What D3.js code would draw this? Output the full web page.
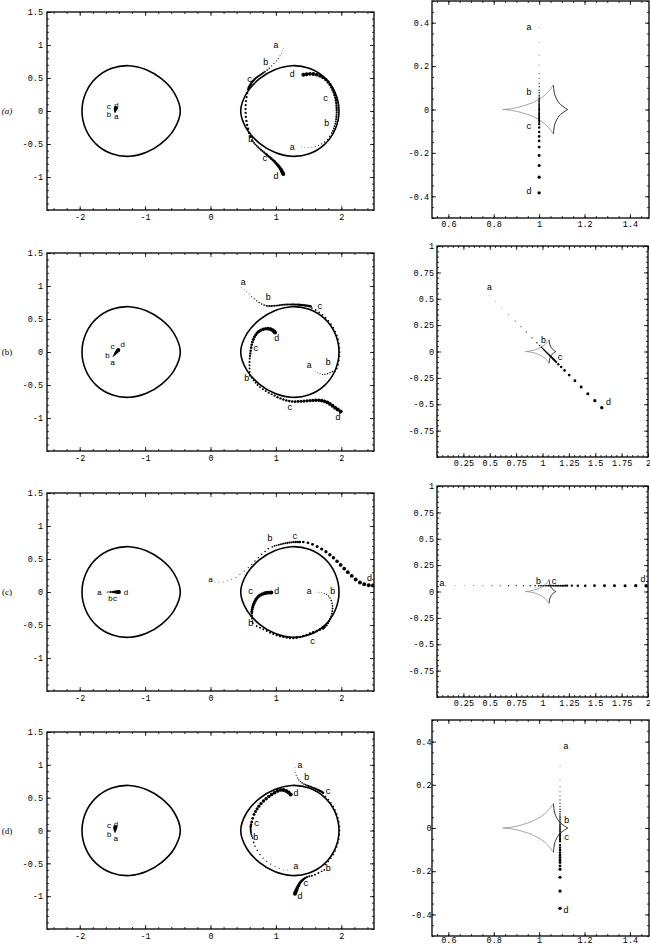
<!DOCTYPE html>
<html><head><meta charset="utf-8">
<script src="https://cdn.jsdelivr.net/npm/d3@7"></script>
<style>body{margin:0;background:#fff}svg{display:block}</style>
</head><body>
<svg id="chart" width="650" height="946"></svg>
<script>
// ---------------- tick values & labels ----------------
const leftXTicks = [-2, -1, 0, 1, 2];
const leftXTickLabels = ["-2", "-1", "0", "1", "2"];
const leftYTicks = [1.5, 1, 0.5, 0, -0.5, -1];
const leftYTickLabels = ["1.5", "1", "0.5", "0", "-0.5", "-1"];
const narrowXTicks = [0.6, 0.8, 1, 1.2, 1.4];
const narrowXTickLabels = ["0.6", "0.8", "1", "1.2", "1.4"];
const narrowYTicks = [0.4, 0.2, 0, -0.2, -0.4];
const narrowYTickLabels = ["0.4", "0.2", "0", "-0.2", "-0.4"];
const wideXTicks = [0.25, 0.5, 0.75, 1, 1.25, 1.5, 1.75, 2];
const wideXTickLabels = ["0.25", "0.5", "0.75", "1", "1.25", "1.5", "1.75", "2"];
const wideYTicks = [1, 0.75, 0.5, 0.25, 0, -0.25, -0.5, -0.75];
const wideYTickLabels = ["1", "0.75", "0.5", "0.25", "0", "-0.25", "-0.5", "-0.75"];
const leftDomainX = [-2.5, 2.5], leftDomainY = [-1.5, 1.5];
const narrowDomainX = [0.528, 1.484], narrowDomainY = [-0.5, 0.5];
const wideDomainX = [0, 2], wideDomainY = [-1, 1];
const rowTags = ["(a)", "(b)", "(c)", "(d)"];

// ---------------- critical curves (image plane) ----------------
const criticalRight = [[1.965,0],[1.907,0.276],[1.745,0.505],[1.508,0.648],[1.24,0.686],[0.981,0.625],[0.751,0.489],[0.559,0.282],[0.462,0],[0.559,-0.282],[0.751,-0.489],[0.981,-0.625],[1.24,-0.686],[1.508,-0.648],[1.745,-0.505],[1.907,-0.276]];
const criticalLeft = [[-1.965,0],[-1.907,0.276],[-1.745,0.505],[-1.508,0.648],[-1.24,0.686],[-0.981,0.625],[-0.751,0.489],[-0.559,0.282],[-0.462,0],[-0.559,-0.282],[-0.751,-0.489],[-0.981,-0.625],[-1.24,-0.686],[-1.508,-0.648],[-1.745,-0.505],[-1.907,-0.276]];

// ---------------- caustic (source plane) ----------------
const causticUL = [[0.84,0],[0.885,0.005],[0.925,0.015],[0.965,0.029],[0.998,0.046],[1.025,0.066],[1.046,0.089],[1.063,0.113]];
const causticLL = [[0.84,0],[0.885,-0.005],[0.925,-0.015],[0.965,-0.029],[0.998,-0.046],[1.025,-0.066],[1.046,-0.089],[1.063,-0.113]];
const causticUR = [[1.063,0.113],[1.065,0.09],[1.069,0.068],[1.077,0.048],[1.088,0.03],[1.105,0.014],[1.126,0]];
const causticLR = [[1.063,-0.113],[1.065,-0.09],[1.069,-0.068],[1.077,-0.048],[1.088,-0.03],[1.105,-0.014],[1.126,0]];

// ---------------- row (a) ----------------  [x, y, time]
const aLeftImg = [[-1.46,-0.02,0.15],[-1.459,-0.005,0.35],[-1.457,0.01,0.5],[-1.455,0.022,0.65],[-1.452,0.032,0.8],[-1.45,0.04,0.9],[-1.448,0.046,1]];
const aTop = [[1.113,0.95,0],[1.1,0.912,0.03],[1.085,0.875,0.06],[1.063,0.836,0.09],[1.037,0.798,0.12],[1.005,0.76,0.15],[0.971,0.722,0.18],[0.935,0.684,0.21],[0.899,0.647,0.24],[0.866,0.62,0.27],[0.833,0.596,0.3],[0.815,0.584,0.32],[0.798,0.572,0.33],[0.783,0.561,0.34],[0.765,0.549,0.36],[0.748,0.537,0.37],[0.73,0.525,0.38],[0.715,0.515,0.4],[0.7,0.504,0.41],[0.686,0.492,0.42],[0.673,0.479,0.44],[0.66,0.466,0.45],[0.648,0.452,0.46],[0.637,0.438,0.48],[0.626,0.424,0.49],[0.616,0.41,0.5],[0.607,0.395,0.52],[0.598,0.38,0.53],[0.59,0.365,0.54],[0.583,0.35,0.56]];
const aSide = [[0.575,0.33,0.42],[0.563,0.268,0.43],[0.552,0.21,0.44],[0.543,0.15,0.45],[0.538,0.09,0.46],[0.536,0.03,0.47],[0.537,-0.03,0.48],[0.541,-0.09,0.49],[0.549,-0.15,0.5],[0.56,-0.21,0.51],[0.574,-0.27,0.52],[0.59,-0.33,0.53],[0.61,-0.385,0.54]];
const aLow = [[0.63,-0.44,0.3],[0.648,-0.462,0.32],[0.666,-0.484,0.34],[0.685,-0.505,0.36],[0.706,-0.527,0.38],[0.728,-0.548,0.4],[0.75,-0.568,0.42],[0.772,-0.588,0.44],[0.795,-0.607,0.46],[0.818,-0.626,0.48],[0.84,-0.645,0.5],[0.862,-0.664,0.52],[0.884,-0.683,0.54],[0.906,-0.702,0.56],[0.93,-0.722,0.6],[0.955,-0.743,0.64],[0.978,-0.765,0.68],[1.0,-0.788,0.72],[1.022,-0.812,0.76],[1.043,-0.837,0.8],[1.062,-0.863,0.84],[1.078,-0.888,0.88],[1.092,-0.912,0.92],[1.103,-0.935,0.96],[1.113,-0.955,1]];
const aInner = [[1.394,-0.54,0],[1.44,-0.548,0.03],[1.495,-0.551,0.06],[1.55,-0.548,0.09],[1.6,-0.538,0.12],[1.65,-0.52,0.15],[1.7,-0.498,0.18],[1.745,-0.47,0.21],[1.79,-0.43,0.24],[1.825,-0.385,0.27],[1.855,-0.335,0.3],[1.87,-0.3,0.32],[1.885,-0.265,0.34],[1.897,-0.23,0.36],[1.907,-0.195,0.38],[1.915,-0.16,0.4],[1.921,-0.125,0.42],[1.925,-0.09,0.44],[1.928,-0.055,0.46],[1.93,-0.02,0.48],[1.93,0.015,0.5],[1.929,0.05,0.52],[1.927,0.085,0.54],[1.924,0.12,0.56],[1.918,0.16,0.59],[1.91,0.2,0.62],[1.9,0.24,0.65],[1.887,0.28,0.68],[1.871,0.32,0.71],[1.852,0.36,0.74],[1.828,0.4,0.77],[1.798,0.44,0.8],[1.762,0.476,0.83],[1.72,0.508,0.86],[1.675,0.532,0.89],[1.625,0.55,0.92],[1.572,0.56,0.95],[1.52,0.563,0.97],[1.468,0.558,0.985],[1.42,0.548,1]];
const aLabels = [["c",-1.555,0.068],["d",-1.44,0.09],["b",-1.555,-0.058],["a",-1.44,-0.08],["a",1.0,0.99],["b",0.844,0.722],["c",0.6,0.465],["d",1.25,0.545],["c",1.761,0.182],["b",1.776,-0.197],["a",1.25,-0.556],["b",0.614,-0.439],["c",0.833,-0.727],["d",1.0,-1.005]];
const aSource = [[1,0.378,0],[1,0.308,0.03],[1,0.251,0.06],[1,0.205,0.09],[1,0.167,0.12],[1,0.144,0.15],[1,0.12,0.18],[1,0.105,0.21],[1,0.089,0.24],[1,0.077,0.27],[1,0.066,0.3],[1,0.058,0.32],[1,0.05,0.33],[1,0.043,0.34],[1,0.036,0.36],[1,0.03,0.37],[1,0.024,0.38],[1,0.018,0.4],[1,0.012,0.41],[1,0.006,0.42],[1,0,0.44],[1,-0.006,0.45],[1,-0.012,0.46],[1,-0.018,0.48],[1,-0.024,0.49],[1,-0.03,0.5],[1,-0.036,0.52],[1,-0.043,0.53],[1,-0.05,0.54],[1,-0.058,0.56],[1,-0.068,0.58],[1,-0.083,0.62],[1,-0.104,0.66],[1,-0.124,0.7],[1,-0.145,0.74],[1,-0.173,0.78],[1,-0.212,0.83],[1,-0.258,0.88],[1,-0.312,0.94],[1,-0.384,1]];
const aSourceLabels = [["a",0.955,0.377],["b",0.955,0.075],["c",0.955,-0.079],["d",0.955,-0.382]];

// ---------------- row (b) ----------------
const bLeftImg = [[-1.49,-0.07,0.1],[-1.478,-0.053,0.25],[-1.465,-0.036,0.4],[-1.452,-0.02,0.55],[-1.44,-0.004,0.7],[-1.428,0.01,0.82],[-1.418,0.021,0.92],[-1.41,0.03,1]];
const bTop = [[0.477,0.979,0],[0.515,0.945,0.03],[0.553,0.913,0.06],[0.592,0.877,0.09],[0.63,0.842,0.12],[0.668,0.808,0.15],[0.706,0.776,0.18],[0.745,0.75,0.21],[0.783,0.726,0.24],[0.82,0.71,0.27],[0.855,0.7,0.3],[0.88,0.698,0.31],[0.905,0.697,0.32],[0.93,0.697,0.33],[0.955,0.698,0.34],[0.98,0.7,0.35],[1.005,0.703,0.36],[1.03,0.706,0.37],[1.055,0.709,0.38],[1.08,0.712,0.39],[1.105,0.715,0.4],[1.13,0.717,0.41],[1.155,0.719,0.42],[1.18,0.72,0.43],[1.205,0.72,0.44],[1.23,0.72,0.45],[1.255,0.72,0.46],[1.28,0.719,0.47],[1.305,0.718,0.48],[1.33,0.717,0.49],[1.355,0.716,0.5],[1.38,0.714,0.51],[1.405,0.712,0.52],[1.43,0.709,0.53],[1.455,0.706,0.54],[1.48,0.702,0.55],[1.505,0.697,0.56],[1.53,0.691,0.57]];
const bSide = [[1.551,0.666,0.3],[1.608,0.637,0.3],[1.662,0.602,0.3],[1.712,0.563,0.3],[1.76,0.52,0.3],[1.803,0.472,0.3],[1.842,0.422,0.3],[1.877,0.368,0.3],[1.906,0.311,0.3],[1.931,0.251,0.3],[1.95,0.19,0.3],[1.964,0.128,0.3],[1.972,0.064,0.3],[1.975,0,0.3],[1.972,-0.064,0.3],[1.964,-0.128,0.3],[1.95,-0.19,0.3],[1.931,-0.251,0.3],[1.9,-0.295,0.3]];
const bInnerRight = [[1.598,-0.29,0],[1.635,-0.315,0.05],[1.674,-0.33,0.1],[1.712,-0.338,0.15],[1.751,-0.34,0.2],[1.79,-0.33,0.25],[1.827,-0.315,0.28],[1.865,-0.295,0.3]];
const bLow = [[0.6,-0.36,0.3],[0.63,-0.391,0.31],[0.66,-0.43,0.32],[0.69,-0.467,0.34],[0.72,-0.5,0.36],[0.757,-0.532,0.38],[0.8,-0.563,0.4],[0.845,-0.59,0.42],[0.89,-0.617,0.44],[0.935,-0.64,0.46],[0.98,-0.662,0.48],[1.025,-0.684,0.5],[1.07,-0.703,0.52],[1.115,-0.72,0.54],[1.16,-0.734,0.56],[1.205,-0.744,0.58],[1.25,-0.75,0.61],[1.295,-0.752,0.64],[1.34,-0.751,0.67],[1.385,-0.748,0.7],[1.43,-0.744,0.73],[1.475,-0.74,0.76],[1.52,-0.736,0.79],[1.565,-0.733,0.82],[1.61,-0.731,0.85],[1.655,-0.732,0.87],[1.7,-0.737,0.89],[1.745,-0.748,0.91],[1.787,-0.765,0.93],[1.826,-0.787,0.95],[1.865,-0.815,0.97],[1.905,-0.845,0.98],[1.946,-0.872,0.99],[1.99,-0.9,1]];
const bInnerLeft = [[0.6,-0.3,0.33],[0.597,-0.25,0.36],[0.596,-0.2,0.39],[0.597,-0.15,0.42],[0.6,-0.1,0.45],[0.604,-0.06,0.48],[0.608,-0.02,0.51],[0.614,0.02,0.54],[0.622,0.066,0.57],[0.63,0.11,0.6],[0.64,0.15,0.63],[0.655,0.19,0.66],[0.672,0.228,0.69],[0.692,0.262,0.72],[0.715,0.29,0.75],[0.742,0.313,0.78],[0.772,0.332,0.81],[0.807,0.345,0.84],[0.845,0.352,0.87],[0.884,0.353,0.9],[0.92,0.345,0.93],[0.951,0.33,0.96],[0.972,0.312,0.98],[0.986,0.294,1]];
const bLabels = [["c",-1.495,0.08],["d",-1.343,0.107],["b",-1.578,-0.046],["a",-1.495,-0.163],["a",0.5,1.045],["b",0.884,0.811],["c",1.674,0.685],["d",1.012,0.193],["c",0.696,0.05],["a",1.51,-0.213],["b",1.8,-0.163],["b",0.553,-0.406],["c",1.216,-0.85],["d",1.95,-1.0]];
const bSource = [[0.495,0.535,0],[0.552,0.478,0.03],[0.616,0.414,0.06],[0.678,0.352,0.09],[0.741,0.289,0.12],[0.795,0.235,0.15],[0.846,0.184,0.18],[0.9,0.13,0.21],[0.947,0.083,0.24],[0.972,0.058,0.27],[0.99,0.04,0.3],[1.0,0.03,0.32],[1.01,0.02,0.34],[1.02,0.01,0.36],[1.03,0.0,0.38],[1.04,-0.01,0.4],[1.05,-0.02,0.42],[1.06,-0.03,0.44],[1.07,-0.04,0.46],[1.08,-0.05,0.48],[1.09,-0.06,0.5],[1.1,-0.07,0.52],[1.11,-0.08,0.54],[1.12,-0.09,0.56],[1.13,-0.1,0.58],[1.15,-0.12,0.61],[1.177,-0.147,0.65],[1.209,-0.179,0.7],[1.253,-0.223,0.75],[1.307,-0.277,0.8],[1.366,-0.336,0.85],[1.43,-0.4,0.9],[1.496,-0.466,0.95],[1.562,-0.532,1]];
const bSourceLabels = [["a",0.498,0.6],["b",1.01,0.1],["c",1.168,-0.058],["d",1.625,-0.485]];

// ---------------- row (c) ----------------
const cLeftImg = [[-1.6,0,0.05],[-1.575,0,0.15],[-1.55,0,0.25],[-1.525,0,0.35],[-1.5,0,0.45],[-1.478,0,0.55],[-1.458,0,0.65],[-1.44,0,0.75],[-1.425,0,0.85],[-1.412,0,0.93],[-1.4,0,1]];
const cTop = [[0.069,0.141,0],[0.13,0.145,0.02],[0.196,0.152,0.04],[0.26,0.168,0.06],[0.324,0.192,0.08],[0.39,0.225,0.1],[0.451,0.268,0.12],[0.515,0.318,0.14],[0.578,0.369,0.16],[0.63,0.42,0.18],[0.68,0.47,0.2],[0.733,0.522,0.22],[0.783,0.571,0.24],[0.835,0.615,0.26],[0.884,0.657,0.28],[0.945,0.686,0.3],[0.98,0.698,0.32],[1.012,0.707,0.34],[1.045,0.716,0.36],[1.078,0.725,0.38],[1.11,0.732,0.4],[1.142,0.738,0.42],[1.174,0.744,0.44],[1.206,0.749,0.46],[1.238,0.753,0.48],[1.27,0.756,0.5],[1.302,0.758,0.52],[1.334,0.759,0.54],[1.366,0.759,0.56],[1.419,0.758,0.6],[1.49,0.745,0.64],[1.56,0.722,0.68],[1.63,0.69,0.72],[1.7,0.652,0.75],[1.765,0.61,0.78],[1.825,0.565,0.81],[1.88,0.518,0.84],[1.935,0.465,0.87],[1.99,0.41,0.9],[2.045,0.355,0.92],[2.1,0.3,0.94],[2.16,0.245,0.96],[2.22,0.19,0.97],[2.285,0.143,0.98],[2.35,0.116,0.99],[2.42,0.104,0.995],[2.485,0.1,1]];
const cInnerRight = [[1.624,0,0],[1.66,-0.004,0.04],[1.7,-0.01,0.08],[1.74,-0.02,0.12],[1.775,-0.035,0.16],[1.805,-0.06,0.2],[1.827,-0.09,0.24],[1.845,-0.13,0.27],[1.858,-0.17,0.3],[1.865,-0.21,0.32],[1.866,-0.25,0.34],[1.862,-0.29,0.36],[1.855,-0.33,0.38],[1.845,-0.37,0.4],[1.83,-0.405,0.42],[1.815,-0.44,0.45],[1.795,-0.473,0.48],[1.772,-0.503,0.51],[1.745,-0.53,0.54],[1.72,-0.55,0.57]];
const cLow = [[0.65,-0.47,0.31],[0.706,-0.515,0.33],[0.757,-0.542,0.35],[0.807,-0.565,0.37],[0.86,-0.592,0.39],[0.91,-0.616,0.41],[0.96,-0.638,0.43],[1.012,-0.657,0.45],[1.063,-0.671,0.47],[1.113,-0.682,0.49],[1.165,-0.69,0.5],[1.216,-0.697,0.51],[1.267,-0.697,0.52],[1.318,-0.692,0.53],[1.37,-0.682,0.54],[1.419,-0.667,0.55],[1.47,-0.65,0.555],[1.521,-0.631,0.56],[1.57,-0.611,0.565],[1.624,-0.59,0.57],[1.672,-0.57,0.57],[1.72,-0.55,0.57]];
const cInnerLeft = [[0.64,-0.44,0.31],[0.636,-0.4,0.4],[0.632,-0.36,0.5],[0.63,-0.32,0.57],[0.632,-0.29,0.6],[0.638,-0.26,0.63],[0.645,-0.23,0.66],[0.654,-0.2,0.69],[0.666,-0.17,0.72],[0.68,-0.14,0.75],[0.697,-0.11,0.78],[0.717,-0.085,0.81],[0.74,-0.062,0.84],[0.765,-0.045,0.87],[0.795,-0.03,0.9],[0.83,-0.019,0.93],[0.865,-0.012,0.96],[0.9,-0.009,0.98],[0.93,-0.008,1]];
const cLabels = [["a",-1.7,0],["d",-1.292,0],["bc",-1.495,-0.1],["a",0.003,0.192],["b",0.91,0.798],["c",1.292,0.833],["d",2.43,0.2],["c",0.614,0],["d",1.012,0],["a",1.51,0],["b",1.868,0],["b",0.614,-0.49],["c",1.563,-0.758]];
const cSource = [[0.078,0.055,0],[0.172,0.055,0.025],[0.258,0.055,0.05],[0.347,0.055,0.075],[0.435,0.055,0.1],[0.52,0.055,0.125],[0.599,0.055,0.15],[0.678,0.055,0.175],[0.751,0.055,0.2],[0.82,0.055,0.225],[0.883,0.055,0.25],[0.931,0.055,0.275],[0.962,0.055,0.3],[0.978,0.055,0.31],[0.994,0.055,0.32],[1.01,0.055,0.33],[1.026,0.055,0.345],[1.042,0.055,0.36],[1.058,0.055,0.375],[1.074,0.055,0.39],[1.09,0.055,0.405],[1.106,0.055,0.42],[1.122,0.055,0.435],[1.138,0.055,0.45],[1.154,0.055,0.465],[1.17,0.055,0.48],[1.186,0.055,0.5],[1.202,0.055,0.52],[1.218,0.055,0.54],[1.234,0.055,0.56],[1.278,0.055,0.6],[1.335,0.055,0.65],[1.405,0.055,0.7],[1.493,0.055,0.75],[1.588,0.055,0.8],[1.682,0.055,0.85],[1.783,0.055,0.9],[1.884,0.055,0.95],[1.982,0.055,1]];
const cSourceLabels = [["a",0.047,0.075],["b",0.962,0.094],["c",1.111,0.094],["d",1.951,0.11]];

// ---------------- row (d) ----------------
const dLeftImg = [[-1.46,-0.03,0.1],[-1.46,-0.012,0.3],[-1.46,0.005,0.5],[-1.459,0.02,0.65],[-1.457,0.033,0.8],[-1.456,0.044,0.9],[-1.455,0.052,1]];
const dTop = [[1.292,0.956,0],[1.292,0.92,0.04],[1.297,0.88,0.08],[1.31,0.84,0.12],[1.328,0.803,0.16],[1.35,0.77,0.2],[1.375,0.745,0.24],[1.4,0.725,0.27],[1.43,0.707,0.3],[1.455,0.696,0.32],[1.478,0.686,0.34],[1.5,0.677,0.36],[1.522,0.669,0.38],[1.544,0.661,0.4],[1.566,0.652,0.42],[1.588,0.643,0.44],[1.61,0.634,0.46],[1.632,0.624,0.48],[1.654,0.613,0.5],[1.676,0.601,0.52],[1.698,0.589,0.54],[1.72,0.576,0.56]];
const dSide = [[1.76,0.52,0.25],[1.803,0.472,0.25],[1.842,0.422,0.25],[1.877,0.368,0.25],[1.906,0.311,0.25],[1.931,0.251,0.25],[1.95,0.19,0.25],[1.964,0.128,0.25],[1.972,0.064,0.25],[1.975,0,0.25],[1.972,-0.064,0.25],[1.964,-0.128,0.25],[1.95,-0.19,0.25],[1.931,-0.251,0.25],[1.906,-0.311,0.25],[1.877,-0.368,0.25],[1.842,-0.422,0.25],[1.803,-0.472,0.25],[1.76,-0.52,0.25]];
const dLow = [[1.74,-0.6,0.3],[1.7,-0.621,0.33],[1.65,-0.648,0.36],[1.598,-0.672,0.39],[1.55,-0.688,0.42],[1.51,-0.698,0.45],[1.475,-0.71,0.48],[1.448,-0.724,0.51],[1.425,-0.74,0.54],[1.405,-0.756,0.57],[1.388,-0.773,0.6],[1.373,-0.792,0.63],[1.36,-0.812,0.67],[1.348,-0.832,0.71],[1.337,-0.852,0.75],[1.328,-0.872,0.79],[1.32,-0.89,0.83],[1.312,-0.91,0.87],[1.305,-0.927,0.91],[1.298,-0.945,0.95],[1.292,-0.962,1]];
const dInner = [[1.241,-0.586,0],[1.18,-0.6,0.03],[1.113,-0.606,0.06],[1.05,-0.58,0.09],[0.986,-0.545,0.12],[0.92,-0.51,0.15],[0.859,-0.469,0.18],[0.805,-0.42,0.21],[0.757,-0.367,0.24],[0.715,-0.305,0.27],[0.68,-0.24,0.29],[0.66,-0.18,0.3],[0.645,-0.113,0.31],[0.632,-0.085,0.33],[0.624,-0.06,0.36],[0.619,-0.035,0.39],[0.616,-0.01,0.42],[0.614,0.015,0.45],[0.614,0.04,0.48],[0.616,0.065,0.52],[0.62,0.09,0.56],[0.63,0.13,0.6],[0.645,0.185,0.64],[0.665,0.244,0.68],[0.688,0.29,0.71],[0.712,0.33,0.74],[0.74,0.37,0.77],[0.772,0.41,0.8],[0.81,0.448,0.83],[0.85,0.482,0.86],[0.892,0.518,0.88],[0.935,0.548,0.9],[0.98,0.578,0.92],[1.025,0.603,0.94],[1.07,0.618,0.96],[1.115,0.616,0.975],[1.158,0.603,0.99],[1.195,0.58,0.995],[1.226,0.55,1]];
const dLabels = [["c",-1.55,0.072],["d",-1.445,0.095],["b",-1.55,-0.055],["a",-1.445,-0.115],["a",1.369,0.982],["b",1.47,0.803],["c",1.801,0.585],["d",1.307,0.55],["c",0.706,0.092],["b",0.69,-0.11],["a",1.307,-0.56],["b",1.801,-0.58],["c",1.46,-0.815],["d",1.369,-1.014]];
const dSource = [[1.092,0.367,0],[1.092,0.287,0.03],[1.092,0.222,0.06],[1.092,0.191,0.09],[1.092,0.168,0.12],[1.092,0.148,0.15],[1.092,0.13,0.18],[1.092,0.114,0.21],[1.092,0.099,0.24],[1.092,0.087,0.26],[1.092,0.075,0.28],[1.092,0.065,0.3],[1.092,0.056,0.31],[1.092,0.048,0.32],[1.092,0.04,0.33],[1.092,0.032,0.35],[1.092,0.024,0.37],[1.092,0.016,0.39],[1.092,0.008,0.41],[1.092,0,0.43],[1.092,-0.008,0.45],[1.092,-0.016,0.47],[1.092,-0.024,0.49],[1.092,-0.032,0.51],[1.092,-0.04,0.53],[1.092,-0.048,0.55],[1.092,-0.055,0.56],[1.092,-0.063,0.58],[1.092,-0.079,0.61],[1.092,-0.091,0.64],[1.092,-0.102,0.67],[1.092,-0.114,0.7],[1.092,-0.125,0.73],[1.092,-0.136,0.76],[1.092,-0.148,0.79],[1.092,-0.16,0.82],[1.092,-0.176,0.85],[1.092,-0.191,0.88],[1.092,-0.228,0.92],[1.092,-0.292,0.96],[1.092,-0.372,1]];
const dSourceLabels = [["a",1.118,0.375],["b",1.121,0.034],["c",1.121,-0.048],["d",1.118,-0.384]];

// ---------------- drawing ----------------
const svg = d3.select("#chart");
const MONO = "'Liberation Mono', 'DejaVu Sans Mono', monospace";

const rows = [
  {tag: rowTags[0], italic: true, imgs: [aLeftImg, aTop, aSide, aLow, aInner], labels: aLabels, src: aSource, srcLabels: aSourceLabels, kind: "narrow"},
  {tag: rowTags[1], italic: false, imgs: [bLeftImg, bTop, bSide, bInnerRight, bLow, bInnerLeft], labels: bLabels, src: bSource, srcLabels: bSourceLabels, kind: "wide"},
  {tag: rowTags[2], italic: false, imgs: [cLeftImg, cTop, cInnerRight, cLow, cInnerLeft], labels: cLabels, src: cSource, srcLabels: cSourceLabels, kind: "wide"},
  {tag: rowTags[3], italic: false, imgs: [dLeftImg, dTop, dSide, dLow, dInner], labels: dLabels, src: dSource, srcLabels: dSourceLabels, kind: "narrow"}
];
const leftFrames = [{x0:47,x1:374,y0:12,y1:210},{x0:47,x1:374,y0:253,y1:451},{x0:47,x1:374,y0:493,y1:691},{x0:47,x1:374,y0:732,y1:929}];
const rightFrames = [{x0:432,x1:649,y0:1,y1:218,pad:3},{x0:437,x1:648,y0:246,y1:457,pad:3},{x0:437,x1:648,y0:486,y1:697,pad:3},{x0:432,x1:649,y0:720,y1:936,pad:0.5}];

const rLeft = d3.scaleLinear().domain([0, 1]).range([0.35, 2.0]);
const rRight = d3.scaleLinear().domain([0, 1]).range([0.35, 1.7]);

function drawAxes(g, x, y, f, xt, xl, yt, yl, minorX, minorY, pad) {
  const mk = (axisFn, scale, vals, size, fmt, tr) => {
    const a = axisFn(scale).tickValues(vals).tickSize(size).tickPadding(pad)
      .tickFormat(fmt ? (d, i) => fmt[i] : () => "");
    const gg = g.append("g").attr("transform", tr).call(a);
    gg.select(".domain").remove();
    gg.selectAll("line").attr("stroke", "#000").attr("stroke-width", 0.8);
    gg.selectAll("text").attr("font-family", MONO).attr("font-size", 8.5).attr("fill", "#000");
  };
  mk(d3.axisBottom, x, minorX, -2, null, `translate(0,${f.y1})`);
  mk(d3.axisBottom, x, xt, -4, xl, `translate(0,${f.y1})`);
  mk(d3.axisTop, x, minorX, -2, null, `translate(0,${f.y0})`);
  mk(d3.axisTop, x, xt, -4, null, `translate(0,${f.y0})`);
  mk(d3.axisLeft, y, minorY, -2, null, `translate(${f.x0},0)`);
  mk(d3.axisLeft, y, yt, -4, yl, `translate(${f.x0},0)`);
  mk(d3.axisRight, y, minorY, -2, null, `translate(${f.x1},0)`);
  mk(d3.axisRight, y, yt, -4, null, `translate(${f.x1},0)`);
  g.append("rect").attr("x", f.x0).attr("y", f.y0).attr("width", f.x1 - f.x0).attr("height", f.y1 - f.y0)
    .attr("fill", "none").attr("stroke", "#000").attr("stroke-width", 1.3);
}

function addClip(id, f) {
  svg.append("clipPath").attr("id", id).append("rect")
    .attr("x", f.x0).attr("y", f.y0).attr("width", f.x1 - f.x0).attr("height", f.y1 - f.y0);
}

function drawLabels(g, arr, x, y, size) {
  g.selectAll(null).data(arr).join("text")
    .attr("x", d => x(d[1])).attr("y", d => y(d[2]))
    .attr("text-anchor", "middle").attr("dominant-baseline", "central")
    .attr("font-family", MONO).attr("font-size", size).attr("fill", "#000")
    .text(d => d[0]);
}

rows.forEach((row, i) => {
  // ----- left panel (image plane) -----
  const lf = leftFrames[i];
  const xl = d3.scaleLinear().domain(leftDomainX).range([lf.x0, lf.x1]);
  const yl = d3.scaleLinear().domain(leftDomainY).range([lf.y1, lf.y0]);
  addClip("clipL" + i, lf);
  const gl = svg.append("g");
  const inner = gl.append("g").attr("clip-path", `url(#clipL${i})`);
  const oval = d3.line().x(d => xl(d[0])).y(d => yl(d[1])).curve(d3.curveCatmullRomClosed.alpha(0.5));
  [criticalLeft, criticalRight].forEach(c => {
    inner.append("path").attr("d", oval(c)).attr("fill", "none").attr("stroke", "#000").attr("stroke-width", 1.6);
  });
  row.imgs.forEach(track => {
    inner.selectAll(null).data(track).join("circle")
      .attr("cx", d => xl(d[0])).attr("cy", d => yl(d[1])).attr("r", d => rLeft(d[2])).attr("fill", "#000");
  });
  drawLabels(inner, row.labels.slice(0, 4), xl, yl, 8);
  drawLabels(inner, row.labels.slice(4), xl, yl, 9);
  drawAxes(gl, xl, yl, lf, leftXTicks, leftXTickLabels, leftYTicks, leftYTickLabels, xl.ticks(25), yl.ticks(30), 4);
  gl.append("text").attr("x", 7).attr("y", yl(0)).attr("text-anchor", "middle").attr("dominant-baseline", "central")
    .attr("font-family", "'Liberation Serif', serif").attr("font-size", 9)
    .attr("font-style", row.italic ? "italic" : "normal").text(row.tag);

  // ----- right panel (source plane) -----
  const rf = rightFrames[i];
  const narrow = row.kind === "narrow";
  const xr = d3.scaleLinear().domain(narrow ? narrowDomainX : wideDomainX).range([rf.x0, rf.x1]);
  const yr = d3.scaleLinear().domain(narrow ? narrowDomainY : wideDomainY).range([rf.y1, rf.y0]);
  addClip("clipR" + i, rf);
  const gr = svg.append("g");
  const innerR = gr.append("g").attr("clip-path", `url(#clipR${i})`);
  const edge = d3.line().x(d => xr(d[0])).y(d => yr(d[1])).curve(d3.curveCatmullRom.alpha(0.5));
  [[causticUL, "#8c8c8c"], [causticLL, "#8c8c8c"], [causticUR, "#000"], [causticLR, "#000"]].forEach(([c, col]) => {
    innerR.append("path").attr("d", edge(c)).attr("fill", "none").attr("stroke", col).attr("stroke-width", 0.8);
  });
  innerR.selectAll(null).data(row.src).join("circle")
    .attr("cx", d => xr(d[0])).attr("cy", d => yr(d[1])).attr("r", d => rRight(d[2])).attr("fill", "#000");
  drawLabels(innerR, row.srcLabels, xr, yr, 9);
  if (narrow) {
    drawAxes(gr, xr, yr, rf, narrowXTicks, narrowXTickLabels, narrowYTicks, narrowYTickLabels, xr.ticks(20), yr.ticks(20), rf.pad);
  } else {
    drawAxes(gr, xr, yr, rf, wideXTicks, wideXTickLabels, wideYTicks, wideYTickLabels, xr.ticks(40), yr.ticks(40), rf.pad);
  }
});
</script>
</body></html>
